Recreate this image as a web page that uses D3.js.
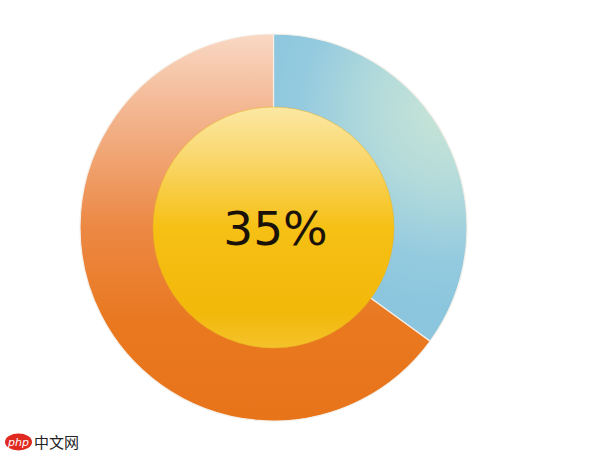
<!DOCTYPE html>
<html>
<head>
<meta charset="utf-8">
<script src="https://cdn.jsdelivr.net/npm/d3@7/dist/d3.min.js"></script>
<style>
  html, body { margin: 0; padding: 0; background: #ffffff; }
  svg { display: block; }
</style>
</head>
<body>
<div id="chart"></div>
<script>
// ---- data ----
const categories = ["完成", "未完成"];
const values = [35, 65];
const centerLabel = "35%";
const watermarkText = "中文网";

// ---- layout ----
const W = 608, H = 456;
const cx = 273.5, cy = 227.5;
const outerR = 193.5, innerR = 120.5;

const svg = d3.select("#chart").append("svg")
  .attr("width", W).attr("height", H);

const defs = svg.append("defs");

// gradients are in the coordinate system of the centred group
// blue gradient (radial, light at upper-right)
const gBlue = defs.append("radialGradient").attr("id", "gBlue")
  .attr("gradientUnits", "userSpaceOnUse")
  .attr("cx", 450 - cx).attr("cy", 110 - cy).attr("r", 200);
gBlue.append("stop").attr("offset", 0).attr("stop-color", "#c9e5d6");
gBlue.append("stop").attr("offset", 0.4).attr("stop-color", "#b2dadb");
gBlue.append("stop").attr("offset", 0.75).attr("stop-color", "#94cadf");
gBlue.append("stop").attr("offset", 1).attr("stop-color", "#8bc6de");

// orange gradient (vertical)
const gOrange = defs.append("linearGradient").attr("id", "gOrange")
  .attr("gradientUnits", "userSpaceOnUse")
  .attr("x1", 0).attr("y1", -outerR).attr("x2", 0).attr("y2", outerR);
gOrange.append("stop").attr("offset", 0).attr("stop-color", "#f9d8c4");
gOrange.append("stop").attr("offset", 0.2).attr("stop-color", "#f3b690");
gOrange.append("stop").attr("offset", 0.5).attr("stop-color", "#ec8844");
gOrange.append("stop").attr("offset", 0.75).attr("stop-color", "#e9781f");
gOrange.append("stop").attr("offset", 1).attr("stop-color", "#e8741a");

// yellow center gradient
const gYellow = defs.append("linearGradient").attr("id", "gYellow")
  .attr("gradientUnits", "userSpaceOnUse")
  .attr("x1", 0).attr("y1", -innerR).attr("x2", 0).attr("y2", innerR);
gYellow.append("stop").attr("offset", 0).attr("stop-color", "#fce8a4");
gYellow.append("stop").attr("offset", 0.2).attr("stop-color", "#f9d870");
gYellow.append("stop").attr("offset", 0.5).attr("stop-color", "#f6c014");
gYellow.append("stop").attr("offset", 0.85).attr("stop-color", "#f2b80a");
gYellow.append("stop").attr("offset", 1).attr("stop-color", "#f4c22a");

const fills = ["url(#gBlue)", "url(#gOrange)"];

const pie = d3.pie().sort(null).value(d => d);
const arc = d3.arc().innerRadius(innerR - 6).outerRadius(outerR);

const g = svg.append("g").attr("transform", `translate(${cx},${cy})`);

g.selectAll("path.slice")
  .data(pie(values))
  .join("path")
  .attr("class", "slice")
  .attr("d", arc)
  .attr("fill", (d, i) => fills[i])
  .attr("stroke", "#f4efe8")
  .attr("stroke-width", 1.2);

// inner circle
g.append("circle")
  .attr("r", innerR)
  .attr("fill", "url(#gYellow)")
  .attr("stroke", "#e8b020")
  .attr("stroke-opacity", 0.5)
  .attr("stroke-width", 1);

// center label
g.append("text")
  .attr("x", 2)
  .attr("y", 17)
  .attr("text-anchor", "middle")
  .attr("font-family", "'DejaVu Sans', sans-serif")
  .attr("font-size", 47)
  .attr("fill", "#1a1208")
  .text(centerLabel);

// watermark
const wm = svg.append("g").attr("transform", "translate(5,433)");
wm.append("ellipse").attr("cx", 13.5).attr("cy", 9).attr("rx", 13.5).attr("ry", 8.5)
  .attr("fill", "#e02a20");
wm.append("text").attr("x", 13.5).attr("y", 13)
  .attr("text-anchor", "middle")
  .attr("font-family", "'DejaVu Sans', sans-serif")
  .attr("font-style", "italic")
  .attr("font-size", 11)
  .attr("fill", "#ffffff")
  .text("php");
wm.append("text").attr("x", 29).attr("y", 15)
  .attr("font-family", "'Noto Sans CJK SC', sans-serif")
  .attr("font-size", 15)
  .attr("fill", "#222222")
  .text(watermarkText);
</script>
</body>
</html>
